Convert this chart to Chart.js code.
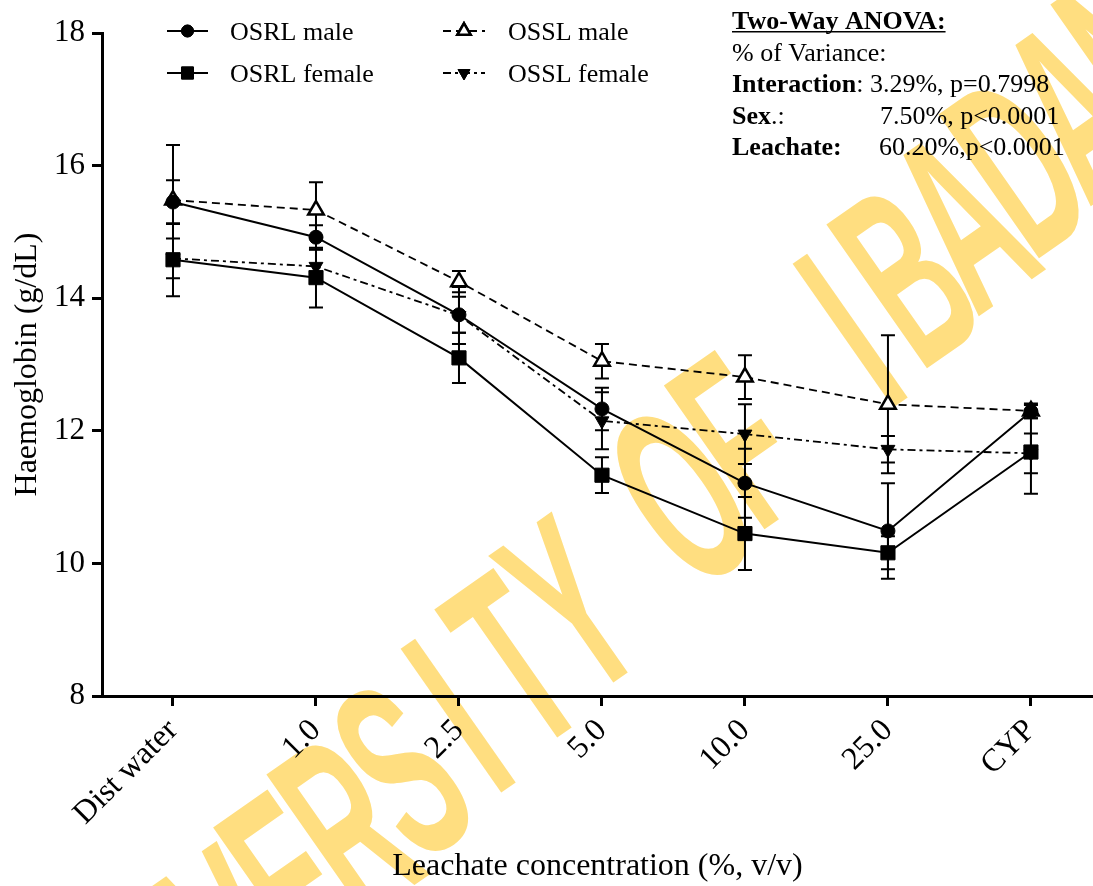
<!DOCTYPE html>
<html>
<head>
<meta charset="utf-8">
<script src="https://cdn.jsdelivr.net/npm/chart.js@4.4.1/dist/chart.umd.min.js"></script>
<style>
  html, body { margin: 0; padding: 0; background: #fff; overflow: hidden; }
  #wrap { width: 1093px; height: 886px; position: relative; }
</style>
</head>
<body>
<div id="wrap"><canvas id="hbChart"></canvas></div>
<script>
const categories = ['Dist water', '1.0', '2.5', '5.0', '10.0', '25.0', 'CYP'];
const yTicks = [8, 10, 12, 14, 16, 18];

// means and SEM
const osrlMale = [15.45, 14.92, 13.75, 12.33, 11.21, 10.49, 12.29];
const osrlMaleErr = [0.33, 0.18, 0.27, 0.32, 0.52, 0.72, 0.10];
const osrlFemale = [14.58, 14.31, 13.10, 11.33, 10.45, 10.16, 11.68];
const osrlFemaleErr = [0.55, 0.45, 0.38, 0.27, 0.55, 0.25, 0.63];
const osslMale = [15.48, 15.33, 14.25, 13.05, 12.81, 12.40, 12.30];
const osslMaleErr = [0.83, 0.42, 0.16, 0.26, 0.33, 1.04, 0.11];
const osslFemale = [14.60, 14.48, 13.74, 12.15, 11.95, 11.72, 11.66];
const osslFemaleErr = [0.30, 0.25, 0.43, 0.43, 0.45, 0.20, 0.30];

const seriesNames = ['OSRL male', 'OSRL female', 'OSSL male', 'OSSL female'];
const watermarkText = 'UNIVERSITY OF IBADAN';

const SERIF = "'Times New Roman', 'Liberation Serif', serif";

const toPoints = (arr) => arr.map((v, i) => ({ x: i, y: v }));

const styles = [
  { dash: [], pointStyle: 'circle', radius: 7, bg: '#000', rot: 0 },
  { dash: [], pointStyle: 'rect', radius: 10, bg: '#000', rot: 0 },
  { dash: [8, 5], pointStyle: 'triangle', radius: 9, bg: '#fff', rot: 0 },
  { dash: [8, 4, 3, 4], pointStyle: 'triangle', radius: 8, bg: '#000', rot: 180 },
];
const means = [osrlMale, osrlFemale, osslMale, osslFemale];
const errs = [osrlMaleErr, osrlFemaleErr, osslMaleErr, osslFemaleErr];

const datasets = means.map((m, i) => ({
  label: seriesNames[i],
  data: toPoints(m),
  errors: errs[i],
  borderColor: '#000',
  borderWidth: i < 2 ? 2 : 1.8,
  borderDash: styles[i].dash,
  pointStyle: styles[i].pointStyle,
  pointRadius: styles[i].radius,
  pointRotation: styles[i].rot,
  pointBackgroundColor: styles[i].bg,
  pointBorderColor: '#000',
  pointBorderWidth: i === 2 ? 2.5 : 1,
  tension: 0,
  fill: false,
}));

const watermark = {
  id: 'watermark',
  beforeDraw(chart) {
    const ctx = chart.ctx;
    ctx.save();
    ctx.fillStyle = 'rgb(255,222,128)';
    ctx.font = "bold 255px 'Liberation Sans', Arial, sans-serif";
    ctx.textAlign = 'center';
    ctx.textBaseline = 'middle';
    const startIdx = 4, x0 = 300, y0 = 895, dx = 56, dy = -55;
    for (let i = 0; i < watermarkText.length; i++) {
      const ch = watermarkText[i];
      if (ch === ' ') continue;
      ctx.save();
      ctx.translate(x0 + (i - startIdx) * dx, y0 + (i - startIdx) * dy);
      ctx.rotate(-35 * Math.PI / 180);
      ctx.scale(0.48, 1);
      ctx.fillText(ch, 0, 0);
      ctx.restore();
    }
    ctx.restore();
  },
};

const errorBars = {
  id: 'errorBars',
  beforeDatasetsDraw(chart) {
    const { ctx, scales: { x, y } } = chart;
    ctx.save();
    ctx.strokeStyle = '#000';
    ctx.lineWidth = 2;
    chart.data.datasets.forEach((ds) => {
      ds.data.forEach((p, j) => {
        const e = ds.errors[j];
        const px = x.getPixelForValue(p.x);
        const yt = y.getPixelForValue(p.y + e);
        const yb = y.getPixelForValue(p.y - e);
        ctx.beginPath();
        ctx.moveTo(px, yt); ctx.lineTo(px, yb);
        ctx.moveTo(px - 7, yt); ctx.lineTo(px + 7, yt);
        ctx.moveTo(px - 7, yb); ctx.lineTo(px + 7, yb);
        ctx.stroke();
      });
    });
    ctx.restore();
  },
};

const annotations = {
  id: 'annotations',
  afterDraw(chart) {
    const ctx = chart.ctx;
    ctx.save();
    // legend
    const cols = [{ l: 167, r: 208, t: 230 }, { l: 443, r: 485, t: 508 }];
    const rows = [31, 73];
    chart.data.datasets.forEach((ds, i) => {
      const c = cols[Math.floor(i / 2)];
      const yy = rows[i % 2];
      ctx.strokeStyle = '#000';
      ctx.lineWidth = ds.borderWidth;
      ctx.setLineDash(ds.borderDash);
      ctx.beginPath();
      ctx.moveTo(c.l, yy); ctx.lineTo(c.r, yy);
      ctx.stroke();
      ctx.setLineDash([]);
      ctx.fillStyle = ds.pointBackgroundColor;
      ctx.lineWidth = ds.pointBorderWidth;
      Chart.helpers.drawPoint(ctx, {
        pointStyle: ds.pointStyle,
        radius: ds.pointRadius * 0.85,
        rotation: ds.pointRotation,
        borderWidth: ds.pointBorderWidth,
      }, (c.l + c.r) / 2, yy);
      ctx.fill();
      ctx.stroke();
      ctx.fillStyle = '#000';
      ctx.font = '26px ' + SERIF;
      ctx.textBaseline = 'alphabetic';
      ctx.textAlign = 'left';
      ctx.fillText(ds.label, c.t, yy + 9);
    });

    // ANOVA box
    const bold = 'bold 26px ' + SERIF, norm = '26px ' + SERIF;
    const lx = 732;
    ctx.fillStyle = '#000';
    ctx.font = bold;
    ctx.fillText('Two-Way ANOVA:', lx, 29);
    const uw = ctx.measureText('Two-Way ANOVA:').width;
    ctx.fillRect(lx, 31, uw, 1.5);
    ctx.font = norm;
    ctx.fillText('% of Variance:', lx, 61);
    ctx.font = bold;
    ctx.fillText('Interaction', lx, 92);
    let w = ctx.measureText('Interaction').width;
    ctx.font = norm;
    ctx.fillText(': 3.29%, p=0.7998', lx + w, 92);
    ctx.font = bold;
    ctx.fillText('Sex', lx, 124);
    w = ctx.measureText('Sex').width;
    ctx.font = norm;
    ctx.fillText('.:', lx + w, 124);
    ctx.fillText('7.50%, p<0.0001', 880, 124);
    ctx.font = bold;
    ctx.fillText('Leachate:', lx, 155);
    ctx.font = norm;
    ctx.fillText('60.20%,p<0.0001', 879, 155);
    ctx.restore();
  },
};

new Chart(document.getElementById('hbChart'), {
  type: 'line',
  data: { datasets },
  options: {
    responsive: true,
    maintainAspectRatio: false,
    animation: false,
    layout: { autoPadding: false, padding: { top: 33, right: 0, left: 0, bottom: 0 } },
    plugins: { legend: { display: false }, tooltip: { enabled: false } },
    scales: {
      x: {
        type: 'linear',
        min: -0.4965,
        max: 6.434,
        afterBuildTicks: (s) => { s.ticks = categories.map((c, i) => ({ value: i })); },
        afterFit: (s) => { s.height = 190; s.paddingRight = 0; s.paddingLeft = 0; },
        ticks: {
          autoSkip: false,
          minRotation: 45,
          maxRotation: 45,
          padding: 6,
          color: '#000',
          font: { family: SERIF, size: 32 },
          callback: (v) => categories[v],
        },
        grid: { drawOnChartArea: false, tickLength: 10, tickWidth: 3, color: '#000' },
        border: { display: true, width: 3, color: '#000' },
        title: {
          display: true,
          text: 'Leachate concentration (%, v/v)',
          color: '#000',
          font: { family: SERIF, size: 32 },
          padding: { top: 0, bottom: 0 },
        },
      },
      y: {
        min: 8,
        max: 18,
        afterBuildTicks: (s) => { s.ticks = yTicks.map((v) => ({ value: v })); },
        afterFit: (s) => { s.width = 102; },
        ticks: {
          padding: 7,
          color: '#000',
          font: { family: SERIF, size: 31 },
        },
        grid: { drawOnChartArea: false, tickLength: 10, tickWidth: 3, color: '#000' },
        border: { display: true, width: 3, color: '#000' },
        title: {
          display: true,
          text: 'Haemoglobin (g/dL)',
          color: '#000',
          font: { family: SERIF, size: 32 },
          padding: { top: 8, bottom: 0 },
        },
      },
    },
  },
  plugins: [watermark, errorBars, annotations],
});
</script>
</body>
</html>
